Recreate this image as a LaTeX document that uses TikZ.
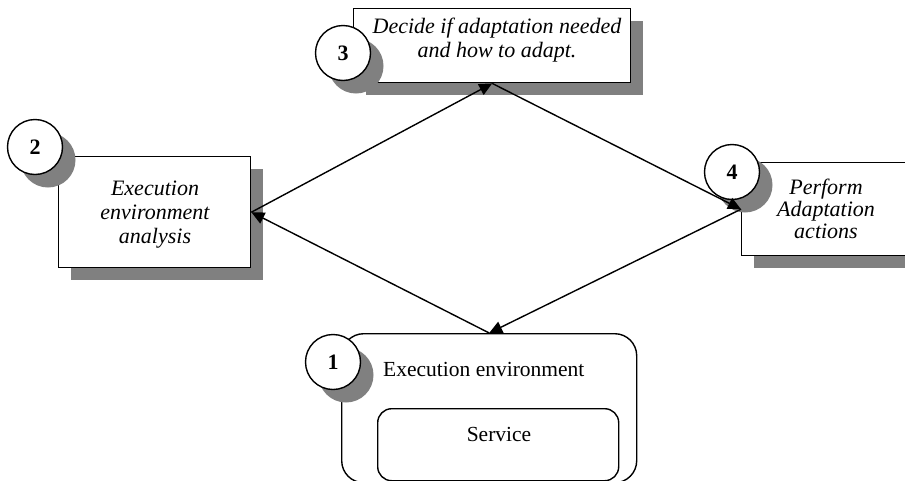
\documentclass[tikz,border=0pt]{standalone}
\usepackage{fontspec}
\setmainfont{Liberation Serif}
\usetikzlibrary{arrows.meta,shadows}
\definecolor{shadowgray}{HTML}{808080}
\begin{document}
\begin{tikzpicture}[x=1pt,y=-1pt,
  shad/.style={drop shadow={shadow xshift=12pt,shadow yshift=-12pt,fill=shadowgray,opacity=1}},
  box/.style={draw,line width=1.4pt,fill=white,inner sep=0pt,anchor=north west,shad},
  rbox/.style={draw,line width=1.4pt,fill=white,inner sep=0pt,anchor=north west},
  circ/.style={circle,draw,fill=white,line width=1.4pt,minimum size=55pt,inner sep=0pt,
    font=\bfseries\fontsize{22}{24}\selectfont,
    drop shadow={shadow xshift=13pt,shadow yshift=-13pt,fill=shadowgray,opacity=1}},
  lbl/.style={font=\itshape\fontsize{22}{24}\selectfont,align=center,inner sep=0pt,anchor=base},
  txt/.style={font=\fontsize{21.5}{24}\selectfont,inner sep=0pt,anchor=base},
  conn/.style={line width=1.4pt,-{Triangle[length=13pt,width=12pt]}}]
\useasboundingbox (0,0) rectangle (905,480);
\clip (0,0) rectangle (905,480);
% boxes
\node[box,minimum width=192pt,minimum height=111pt] (b2) at (58,156) {};
\node[box,minimum width=277pt,minimum height=74pt] (b3) at (353,8) {};
\node[box,minimum width=190pt,minimum height=93pt] (b4) at (741,162) {};
\node[rbox,rounded corners=22pt,minimum width=295pt,minimum height=149pt] (o1) at (341,333) {};
\node[rbox,rounded corners=14pt,minimum width=241pt,minimum height=72pt] (i1) at (377,408) {};
% texts (base = baseline of the last line)
\node[lbl] (t2) at (155,243) {Execution\\environment\\analysis};
\node[lbl] (t3) at (497,57) {Decide if adaptation needed\\and how to adapt.};
\node[lbl,font=\itshape\fontsize{22}{22}\selectfont] (t4) at (826,238) {Perform\\Adaptation\\actions};
\node[txt,anchor=base west] (t1) at (383,376) {Execution environment};
\node[txt] (ts) at (499,441) {Service};
% circles
\node[circ] (c2) at (35,147) {2};
\node[circ] (c3) at (343,53) {3};
\node[circ] (c4) at (732,172) {4};
\node[circ] (c1) at (333,362) {1};
% connectors
\draw[conn] (o1.north) -- (b2.east);
\draw[conn] (b2.east) -- (b3.south);
\draw[conn] (b3.south) -- (b4.west);
\draw[conn] (b4.west) -- (o1.north);
\end{tikzpicture}
\end{document}
